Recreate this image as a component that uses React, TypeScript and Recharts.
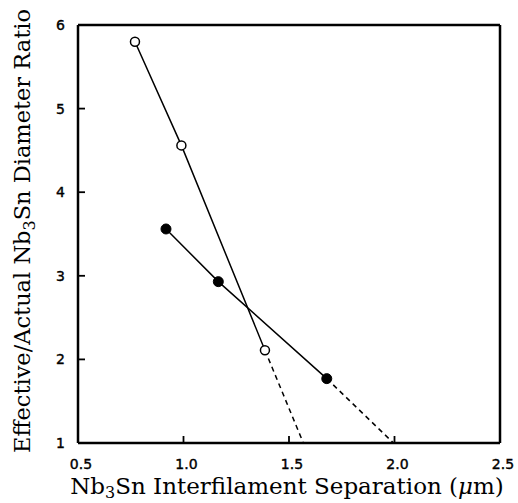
import React from "react";
import { ComposedChart, Line, XAxis, YAxis, Label } from "recharts";

// open circles (solid part + dashed extrapolation to ratio 1)
const openSolidX = [0.77, 0.99, 1.386];
const openSolidY = [5.8, 4.56, 2.11];
const openDashX = [1.386, 1.568];
const openDashY = [2.11, 1.0];

// filled circles
const filledSolidX = [0.917, 1.165, 1.679];
const filledSolidY = [3.56, 2.93, 1.77];
const filledDashX = [1.679, 1.995];
const filledDashY = [1.77, 1.0];

const xTicks = [0.5, 1.0, 1.5, 2.0, 2.5];
const yTicks = [1, 2, 3, 4, 5, 6];

const zip = (xs: number[], ys: number[]) => xs.map((x, i) => ({ x, y: ys[i] }));

const openSolid = zip(openSolidX, openSolidY);
const openDash = zip(openDashX, openDashY);
const filledSolid = zip(filledSolidX, filledSolidY);
const filledDash = zip(filledDashX, filledDashY);

// layout
const W = 518;
const H = 503;
const LEFT_W = 78;
const RIGHT_W = 18;
const TOP_H = 25;
const BOTTOM_H = 60;
const PLOT_L = LEFT_W;
const PLOT_R = W - RIGHT_W;
const PLOT_T = TOP_H;
const PLOT_B = H - BOTTOM_H;
const TICK_LEN = 7;

const tickFont = { fontFamily: "'DejaVu Sans', sans-serif", fontSize: 14 };
const labelFont = { fontFamily: "'DejaVu Serif', serif", fontSize: 23 };
const axisLine = { stroke: "#000", strokeWidth: 2.5 };

// Recharts hands us the tick position along the axis; the perpendicular side comes from the layout
function BottomTick(props: any) {
  const { x, payload } = props;
  return (
    <g>
      <line x1={x} x2={x} y1={PLOT_B} y2={PLOT_B - TICK_LEN} stroke="#000" strokeWidth={1.8} />
      <text x={x + 3} y={PLOT_B + 26} textAnchor="middle" fill="#000" stroke="#000" strokeWidth={0.4} style={tickFont}>
        {payload.value.toFixed(1)}
      </text>
    </g>
  );
}

function TopTick(props: any) {
  const { x } = props;
  return <line x1={x} x2={x} y1={PLOT_T} y2={PLOT_T + TICK_LEN} stroke="#000" strokeWidth={1.8} />;
}

function LeftTick(props: any) {
  const { y, payload } = props;
  return (
    <g>
      <line x1={PLOT_L} x2={PLOT_L + TICK_LEN} y1={y} y2={y} stroke="#000" strokeWidth={1.8} />
      <text x={PLOT_L - 13} y={y + 5} textAnchor="end" fill="#000" stroke="#000" strokeWidth={0.4} style={tickFont}>
        {payload.value}
      </text>
    </g>
  );
}

function RightTick(props: any) {
  const { y } = props;
  return <line x1={PLOT_R} x2={PLOT_R - TICK_LEN} y1={y} y2={y} stroke="#000" strokeWidth={1.8} />;
}

const OpenDot = (props: any) => (
  <circle cx={props.cx} cy={props.cy} r={4.5} fill="#fff" stroke="#000" strokeWidth={1.5} />
);
const FilledDot = (props: any) => <circle cx={props.cx} cy={props.cy} r={5} fill="#000" stroke="#000" />;

function XLabel() {
  return (
    <text x={287} y={494} textAnchor="middle" fill="#000" style={labelFont}>
      Nb<tspan dy={4} fontSize={16}>3</tspan>
      <tspan dy={-4}>Sn Interfilament Separation (</tspan>
      <tspan fontStyle="italic">μ</tspan>m)
    </text>
  );
}

function YLabel() {
  return (
    <text
      x={0}
      y={0}
      transform="translate(30, 231) rotate(-90)"
      textAnchor="middle"
      fill="#000"
      style={{ ...labelFont, fontSize: 22.5 }}
    >
      Effective/Actual Nb<tspan dy={5} fontSize={16}>3</tspan>
      <tspan dy={-5}>Sn Diameter Ratio</tspan>
    </text>
  );
}

export default function App() {
  return (
    <div style={{ position: "absolute", left: 0, top: 0, background: "#fff" }}>
      <ComposedChart width={W} height={H} margin={{ top: 0, right: 0, bottom: 0, left: 0 }}>
        <XAxis
          xAxisId="bottom"
          dataKey="x"
          type="number"
          domain={[0.5, 2.5]}
          ticks={xTicks}
          height={BOTTOM_H}
          axisLine={axisLine}
          tickLine={false}
          tick={<BottomTick />}
          interval={0}
          allowDataOverflow
        >
          <Label content={<XLabel />} />
        </XAxis>
        <XAxis
          xAxisId="top"
          orientation="top"
          dataKey="x"
          type="number"
          domain={[0.5, 2.5]}
          ticks={xTicks}
          height={TOP_H}
          axisLine={axisLine}
          tickLine={false}
          tick={<TopTick />}
          interval={0}
        />
        <YAxis
          yAxisId="left"
          type="number"
          domain={[1, 6]}
          ticks={yTicks}
          width={LEFT_W}
          axisLine={axisLine}
          tickLine={false}
          tick={<LeftTick />}
          interval={0}
          allowDataOverflow
        >
          <Label content={<YLabel />} />
        </YAxis>
        <YAxis
          yAxisId="right"
          orientation="right"
          type="number"
          domain={[1, 6]}
          ticks={yTicks}
          width={RIGHT_W}
          axisLine={axisLine}
          tickLine={false}
          tick={<RightTick />}
          interval={0}
        />
        <Line
          xAxisId="bottom"
          yAxisId="left"
          data={openDash}
          dataKey="y"
          stroke="#000"
          strokeWidth={1.5}
          strokeDasharray="5 4"
          dot={false}
          isAnimationActive={false}
        />
        <Line
          xAxisId="bottom"
          yAxisId="left"
          data={filledDash}
          dataKey="y"
          stroke="#000"
          strokeWidth={1.5}
          strokeDasharray="5 4"
          dot={false}
          isAnimationActive={false}
        />
        <Line
          xAxisId="bottom"
          yAxisId="left"
          data={openSolid}
          dataKey="y"
          stroke="#000"
          strokeWidth={1.5}
          dot={<OpenDot />}
          isAnimationActive={false}
        />
        <Line
          xAxisId="bottom"
          yAxisId="left"
          data={filledSolid}
          dataKey="y"
          stroke="#000"
          strokeWidth={1.5}
          dot={<FilledDot />}
          isAnimationActive={false}
        />
      </ComposedChart>
    </div>
  );
}
